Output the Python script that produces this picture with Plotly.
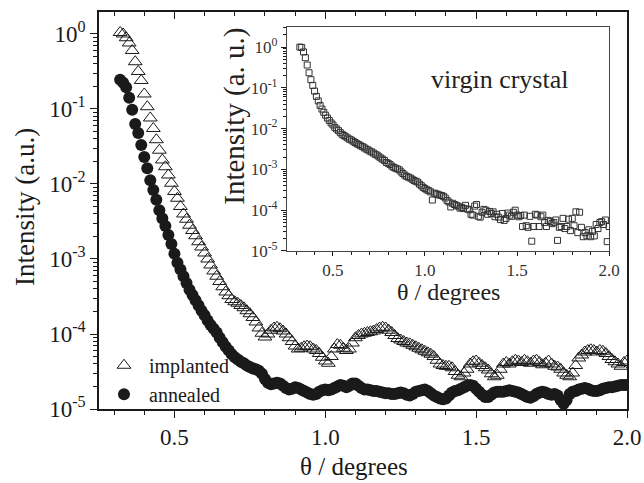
import numpy as np
import plotly.graph_objects as go

# scan grid (degrees), 0.32 ... 2.00 in steps of 0.01
theta = np.round(np.arange(32, 201) / 100.0, 2)

# log10 of intensity, one row per 0.1 degree
implanted_log10 = [
    0.02, 0.00, -0.05, -0.12, -0.22, -0.37, -0.50, -0.62, -0.80, -0.97,
    -1.12, -1.26, -1.41, -1.55, -1.68, -1.77, -1.88, -1.99, -2.10, -2.19,
    -2.30, -2.40, -2.47, -2.55, -2.62, -2.69, -2.77, -2.84, -2.92, -3.00,
    -3.08, -3.16, -3.23, -3.30, -3.37, -3.44, -3.49, -3.54, -3.57, -3.59,
    -3.62, -3.65, -3.69, -3.73, -3.78, -3.84, -3.92, -3.99, -4.04, -4.00,
    -3.95, -3.92, -3.91, -3.93, -3.96, -4.00, -4.05, -4.10, -4.16, -4.20,
    -4.19, -4.17, -4.16, -4.17, -4.20, -4.22, -4.26, -4.31, -4.36, -4.39,
    -4.30, -4.20, -4.14, -4.15, -4.19, -4.22, -4.20, -4.12, -4.05, -4.02,
    -4.00, -3.99, -3.98, -3.97, -3.96, -3.94, -3.92, -3.91, -3.92, -3.95,
    -3.98, -4.02, -4.06, -4.08, -4.10, -4.12, -4.13, -4.15, -4.17, -4.19,
    -4.21, -4.23, -4.25, -4.27, -4.30, -4.35, -4.40, -4.42, -4.43, -4.43,
    -4.45, -4.50, -4.55, -4.57, -4.52, -4.47, -4.40, -4.37, -4.36, -4.39,
    -4.42, -4.45, -4.48, -4.53, -4.57, -4.55, -4.47, -4.40, -4.38, -4.40,
    -4.37, -4.35, -4.36, -4.38, -4.35, -4.37, -4.39, -4.36, -4.35, -4.38,
    -4.41, -4.39, -4.36, -4.40, -4.43, -4.44, -4.47, -4.52, -4.55, -4.57,
    -4.52, -4.42, -4.32, -4.28, -4.24, -4.22, -4.21, -4.22, -4.24, -4.22,
    -4.23, -4.26, -4.30, -4.34, -4.37, -4.40, -4.43, -4.38, -4.36,
]

annealed_log10 = [
    -0.61, -0.65, -0.71, -0.85, -1.01, -1.20, -1.32, -1.48, -1.64, -1.79,
    -1.95, -2.08, -2.21, -2.35, -2.46, -2.56, -2.68, -2.80, -2.93, -3.05,
    -3.14, -3.23, -3.32, -3.41, -3.48, -3.55, -3.62, -3.69, -3.75, -3.82,
    -3.88, -3.93, -3.98, -4.05, -4.11, -4.17, -4.22, -4.27, -4.31, -4.34,
    -4.37, -4.39, -4.42, -4.44, -4.46, -4.47, -4.49, -4.53, -4.60, -4.65,
    -4.67, -4.66, -4.65, -4.66, -4.69, -4.72, -4.74, -4.73, -4.71, -4.72,
    -4.74, -4.76, -4.78, -4.80, -4.81, -4.80, -4.77, -4.75, -4.74, -4.75,
    -4.74, -4.72, -4.70, -4.68, -4.69, -4.71, -4.69, -4.66, -4.66, -4.69,
    -4.72, -4.74, -4.74, -4.75, -4.76, -4.76, -4.77, -4.78, -4.79, -4.79,
    -4.80, -4.80, -4.79, -4.78, -4.79, -4.81, -4.82, -4.80, -4.77, -4.76,
    -4.75, -4.74, -4.76, -4.79, -4.82, -4.84, -4.86, -4.87, -4.86, -4.82,
    -4.78, -4.76, -4.75, -4.73, -4.71, -4.69, -4.68, -4.69, -4.73, -4.77,
    -4.81, -4.84, -4.84, -4.81, -4.78, -4.77, -4.77, -4.77, -4.76, -4.75,
    -4.76, -4.77, -4.78, -4.80, -4.82, -4.84, -4.85, -4.83, -4.80, -4.78,
    -4.77, -4.78, -4.80, -4.81, -4.80, -4.82, -4.88, -4.93, -4.88, -4.80,
    -4.77, -4.76, -4.74, -4.73, -4.72, -4.73, -4.75, -4.76, -4.76, -4.75,
    -4.73, -4.72, -4.71, -4.71, -4.70, -4.69, -4.68, -4.68, -4.68,
]

virgin_log10 = [
    0.00, -0.01, -0.12, -0.26, -0.44, -0.63, -0.80, -0.94, -1.08, -1.21,
    -1.32, -1.43, -1.52, -1.60, -1.67, -1.74, -1.80, -1.86, -1.91, -1.97,
    -2.01, -2.05, -2.10, -2.14, -2.17, -2.20, -2.23, -2.26, -2.28, -2.31,
    -2.34, -2.37, -2.39, -2.42, -2.44, -2.47, -2.50, -2.52, -2.55, -2.57,
    -2.60, -2.63, -2.65, -2.69, -2.72, -2.75, -2.78, -2.83, -2.85, -2.88,
    -2.92, -2.95, -2.97, -2.99, -3.01, -3.06, -3.10, -3.14, -3.17, -3.19,
    -3.21, -3.24, -3.27, -3.29, -3.31, -3.36, -3.40, -3.44, -3.47, -3.50,
    -3.52, -3.55, -3.75, -3.58, -3.60, -3.61, -3.63, -3.64, -3.66, -3.70,
    -3.76, -3.80, -3.92, -3.83, -3.86, -3.88, -3.90, -3.95, -3.93, -3.96,
    -3.88, -3.97, -3.99, -4.10, -4.12, -3.90, -3.86, -4.15, -4.17, -4.05,
    -3.98, -4.00, -4.10, -4.03, -4.08, -4.04, -4.16, -4.10, -4.17, -4.23,
    -4.08, -4.25, -4.20, -4.07, -4.12, -4.15, -4.05, -4.00, -4.12, -4.16,
    -4.13, -4.40, -4.12, -4.38, -4.42, -4.15, -4.76, -4.40, -4.10, -4.12,
    -4.40, -4.16, -4.12, -4.30, -4.40, -4.25, -4.28, -4.33, -4.30, -4.24,
    -4.74, -4.42, -4.40, -4.20, -4.45, -4.40, -4.22, -4.50, -4.20, -4.38,
    -4.04, -4.55, -4.05, -4.42, -4.65, -4.55, -4.63, -4.48, -4.65, -4.52,
    -4.63, -4.35, -4.45, -4.30, -4.28, -4.35, -4.24, -4.77, -4.40,
]

implanted = 10 ** np.array(implanted_log10)
annealed = 10 ** np.array(annealed_log10)
virgin = 10 ** np.array(virgin_log10)

x_major = [0.5, 1.0, 1.5, 2.0]
x_labels = ["0.5", "1.0", "1.5", "2.0"]
y_major = [1e-5, 1e-4, 1e-3, 1e-2, 1e-1, 1e0]
y_labels = ["10<sup>-5</sup>", "10<sup>-4</sup>", "10<sup>-3</sup>",
            "10<sup>-2</sup>", "10<sup>-1</sup>", "10<sup>0</sup>"]
y_minor = [m * 10.0 ** k for k in range(-5, 1) for m in range(2, 10)]

SERIF = "Liberation Serif"
INK = "#1a1a1a"


def f(size, color=INK):
    return dict(family=SERIF, size=size, color=color)


fig = go.Figure()
fig.add_trace(go.Scatter(
    x=theta, y=implanted, mode="markers", name="implanted",
    marker=dict(symbol="triangle-up-open", size=12, color=INK,
                line=dict(width=1, color=INK)),
    xaxis="x", yaxis="y"))
fig.add_trace(go.Scatter(
    x=theta, y=annealed, mode="markers", name="annealed",
    marker=dict(symbol="circle", size=12, color=INK,
                line=dict(width=0)),
    xaxis="x", yaxis="y"))
fig.add_trace(go.Scatter(
    x=theta, y=virgin, mode="markers", name="virgin crystal",
    showlegend=False,
    marker=dict(symbol="square-open", size=6, color="#333",
                line=dict(width=1, color="#333")),
    xaxis="x2", yaxis="y2"))
# carrier for the top (inward ticks) axis
fig.add_trace(go.Scatter(x=[None], y=[None], xaxis="x3", yaxis="y",
                         showlegend=False, hoverinfo="skip"))

fig.update_layout(
    width=644, height=483,
    margin=dict(l=99, r=17, t=12, b=74, autoexpand=False),
    paper_bgcolor="white", plot_bgcolor="white",
    showlegend=True,
    legend=dict(x=0.0, y=-0.012, xanchor="left", yanchor="bottom",
                bgcolor="rgba(0,0,0,0)", borderwidth=0,
                font=f(20), itemsizing="trace", itemwidth=40,
                tracegroupgap=0),
)

fig.update_layout(xaxis=dict(
    range=[0.25, 2.0], tickmode="array", tickvals=x_major, ticktext=x_labels,
    ticks="outside", ticklen=7, tickwidth=1.3, tickcolor=INK,
    minor=dict(ticks="outside", dtick=0.1, tick0=0, ticklen=4,
               tickwidth=1.1, tickcolor=INK),
    showline=True, linewidth=1.6, linecolor=INK, mirror=True,
    showgrid=False, zeroline=False, tickfont=f(23),
    domain=[0, 1], anchor="y"))
fig.update_layout(yaxis=dict(
    type="log", range=[-5, 0.293], tickmode="array", tickvals=y_major,
    ticktext=y_labels, ticks="outside", ticklen=7, tickwidth=1.3,
    tickcolor=INK,
    minor=dict(ticks="outside", tickmode="array", tickvals=y_minor,
               ticklen=4, tickwidth=1.1, tickcolor=INK),
    showline=True, linewidth=1.6, linecolor=INK, mirror=True,
    showgrid=False, zeroline=False, tickfont=f(23),
    domain=[0, 1], anchor="x"))
fig.update_layout(xaxis3=dict(
    range=[0.25, 2.0], overlaying="x", side="top", anchor="y",
    tickmode="array", tickvals=x_major, showticklabels=False,
    ticks="inside", ticklen=7, tickwidth=1.3, tickcolor=INK,
    minor=dict(ticks="inside", dtick=0.1, tick0=0, ticklen=4,
               tickwidth=1.1, tickcolor=INK),
    showline=False, showgrid=False, zeroline=False))
fig.update_layout(xaxis2=dict(
    range=[0.25, 2.0], tickmode="array", tickvals=x_major, ticktext=x_labels,
    ticks="outside", ticklen=4, tickwidth=1, tickcolor=INK,
    minor=dict(ticks="outside", dtick=0.1, tick0=0, ticklen=3,
               tickwidth=1, tickcolor=INK),
    showline=True, linewidth=1, linecolor="#444", mirror=True,
    showgrid=False, zeroline=False, tickfont=f(17, "#333"),
    domain=[0.356, 0.966], anchor="y2"))
fig.update_layout(yaxis2=dict(
    type="log", range=[-5, 0.49], tickmode="array", tickvals=y_major,
    ticktext=y_labels, ticks="outside", ticklen=5, tickwidth=1,
    tickcolor=INK,
    minor=dict(ticks="outside", tickmode="array", tickvals=y_minor,
               ticklen=3, tickwidth=1, tickcolor=INK),
    showline=True, linewidth=1, linecolor="#444", mirror=True,
    showgrid=False, zeroline=False, tickfont=f(17, "#333"),
    domain=[0.398, 0.962], anchor="x2"))

# axis titles and inset label, placed relative to their axes
fig.add_annotation(text="θ / degrees", xref="x domain", yref="y domain",
                   x=0.483, y=-0.146, yanchor="middle", showarrow=False,
                   font=f(25))
fig.add_annotation(text="Intensity (a.u.)", xref="x domain", yref="y domain",
                   x=-0.140, y=0.509, textangle=-90, xanchor="center",
                   yanchor="middle", showarrow=False, font=f(27))
fig.add_annotation(text="θ / degrees", xref="x2 domain", yref="y2 domain",
                   x=0.50, y=-0.183, yanchor="middle", showarrow=False,
                   font=f(24, "#222"))
fig.add_annotation(text="Intensity (a. u.)", xref="x2 domain", yref="y2 domain",
                   x=-0.161, y=0.60, textangle=-90, xanchor="center",
                   yanchor="middle", showarrow=False, font=f(29, "#222"))
fig.add_annotation(text="virgin crystal", xref="x2 domain", yref="y2 domain",
                   x=0.66, y=0.768, yanchor="middle", showarrow=False,
                   font=f(26, "#222"))

fig.write_html("out.html")
